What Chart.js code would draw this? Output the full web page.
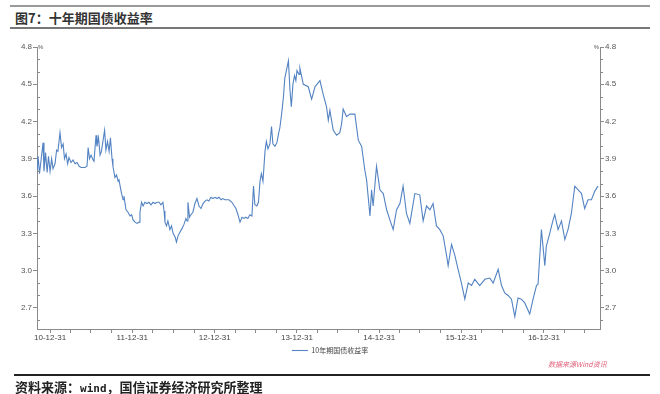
<!DOCTYPE html>
<html>
<head>
<meta charset="utf-8">
<script src="https://cdn.jsdelivr.net/npm/chart.js@4"></script>
<style>
  body { margin: 0; background: #fff; width: 660px; height: 394px; position: relative; overflow: hidden; }
  .rule { position: absolute; left: 10px; width: 640px; }
  #title { position: absolute; left: 15px; top: 8px; font: bold 13px "Noto Sans CJK SC", sans-serif; color: #333; }
  #source { position: absolute; left: 15px; top: 377px; font: bold 13px "Noto Sans CJK SC", sans-serif; color: #222; }
  #source span { font-family: "DejaVu Sans Mono", monospace; font-size: 11px; }
  #mark { position: absolute; left: 548px; top: 359px; font: italic 7px "Noto Sans CJK SC", sans-serif; color: #e3607a; }
  #box { position: absolute; left: 0; top: 30px; width: 660px; height: 334px; }
</style>
</head>
<body>
<div class="rule" style="top:5px;height:2px;background:#9a9a9a"></div>
<div id="title">图7：十年期国债收益率</div>
<div class="rule" style="top:27px;height:2px;background:#777"></div>
<div id="box"><canvas id="chart"></canvas></div>
<div id="mark">数据来源Wind资讯</div>
<div class="rule" style="top:374px;height:2px;background:#222;left:14px;width:636px"></div>
<div id="source">资料来源：<span>wind</span>，国信证券经济研究所整理</div>

<script>
// 10年期国债收益率 (%)
const dates = [
  '2010-11-04','2010-11-08','2010-11-14','2010-11-30','2010-12-04','2010-12-11','2010-12-18','2010-12-24',
  '2010-12-31','2011-01-07','2011-01-13','2011-01-22','2011-01-29','2011-02-04','2011-02-13','2011-02-20',
  '2011-02-27','2011-03-05','2011-03-12','2011-03-19','2011-03-25','2011-04-03','2011-04-12','2011-04-21',
  '2011-04-30','2011-05-09','2011-05-18','2011-05-26','2011-06-04','2011-06-13','2011-06-18','2011-06-24',
  '2011-07-01','2011-07-10','2011-07-14','2011-07-23','2011-07-27','2011-08-03','2011-08-10','2011-08-16',
  '2011-08-30','2011-09-05','2011-09-12','2011-09-19','2011-09-25','2011-10-02','2011-10-06','2011-10-15',
  '2011-10-22','2011-10-29','2011-11-02','2011-11-11','2011-11-20','2011-11-24','2011-12-03','2011-12-12',
  '2011-12-21','2011-12-28','2012-01-03','2012-01-12','2012-01-21','2012-01-30','2012-02-03','2012-02-10',
  '2012-02-17','2012-02-25','2012-03-05','2012-03-14','2012-03-23','2012-04-01','2012-04-10','2012-04-19',
  '2012-04-28','2012-05-06','2012-05-15','2012-05-20','2012-05-24','2012-05-31','2012-06-06','2012-06-15',
  '2012-06-22','2012-06-29','2012-07-08','2012-07-14','2012-07-21','2012-07-30','2012-08-08','2012-08-16',
  '2012-08-25','2012-08-30','2012-09-03','2012-09-10','2012-09-16','2012-09-25','2012-10-04','2012-10-13',
  '2012-10-22','2012-10-31','2012-11-09','2012-11-18','2012-11-26','2012-12-05','2012-12-14','2012-12-23',
  '2013-01-01','2013-01-10','2013-01-19','2013-01-28','2013-02-05','2013-02-14','2013-03-04','2013-03-17',
  '2013-04-04','2013-04-13','2013-04-22','2013-05-01','2013-05-10','2013-05-18','2013-05-27','2013-06-05',
  '2013-06-14','2013-06-21','2013-06-27','2013-07-06','2013-07-13','2013-07-20','2013-07-26','2013-08-02',
  '2013-08-11','2013-08-17','2013-08-24','2013-09-02','2013-09-09','2013-09-15','2013-09-24','2013-10-03',
  '2013-10-10','2013-10-16','2013-10-21','2013-10-25','2013-11-01','2013-11-07','2013-11-23','2013-11-30',
  '2013-12-06','2013-12-13','2013-12-20','2013-12-26','2013-12-31','2014-01-09','2014-01-13','2014-01-28',
  '2014-02-19','2014-03-06','2014-03-21','2014-04-12','2014-04-26','2014-05-11','2014-05-19','2014-05-26',
  '2014-06-10','2014-06-25','2014-07-09','2014-07-17','2014-07-24','2014-08-08','2014-08-23','2014-09-14',
  '2014-09-29','2014-10-14','2014-10-28','2014-11-05','2014-11-20','2014-11-27','2014-12-04','2014-12-19',
  '2015-01-03','2015-01-18','2015-02-02','2015-02-16','2015-03-03','2015-03-18','2015-04-02','2015-04-16',
  '2015-05-01','2015-05-16','2015-06-07','2015-06-29','2015-07-14','2015-07-29','2015-08-13','2015-08-27',
  '2015-09-11','2015-09-26','2015-10-11','2015-10-26','2015-11-02','2015-11-17','2015-12-02','2015-12-16',
  '2015-12-31','2016-01-15','2016-01-30','2016-02-14','2016-02-28','2016-03-21','2016-04-13','2016-05-05',
  '2016-05-20','2016-06-11','2016-06-26','2016-07-10','2016-07-25','2016-08-09','2016-08-24','2016-09-07',
  '2016-09-22','2016-10-07','2016-10-29','2016-11-13','2016-11-28','2016-12-05','2016-12-20','2017-01-04',
  '2017-01-11','2017-01-26','2017-02-10','2017-02-17','2017-03-04','2017-03-19','2017-04-03','2017-04-17',
  '2017-05-02','2017-05-17','2017-06-01','2017-06-16','2017-06-30','2017-07-15','2017-07-30','2017-08-14',
  '2017-08-28'
];
const yields = [
  3.81, 3.92, 3.78, 4.03, 3.80, 3.95, 3.79, 3.92,
  3.80, 3.90, 3.82, 3.86, 3.97, 3.96, 4.11, 3.99,
  4.02, 3.90, 3.94, 3.86, 3.91, 3.87, 3.89, 3.86,
  3.87, 3.84, 3.83, 3.83, 3.83, 3.84, 3.99, 3.90,
  3.93, 3.89, 3.88, 4.09, 4.00, 4.07, 3.93, 3.96,
  4.13, 3.97, 4.04, 3.96, 4.07, 3.90, 3.84, 3.75,
  3.77, 3.72, 3.73, 3.64, 3.57, 3.60, 3.49, 3.47,
  3.44, 3.45, 3.41, 3.39, 3.38, 3.39, 3.47, 3.55,
  3.52, 3.55, 3.54, 3.55, 3.53, 3.55, 3.54, 3.55,
  3.55, 3.53, 3.55, 3.48, 3.39, 3.36, 3.40, 3.33,
  3.36, 3.30, 3.27, 3.23, 3.28, 3.31, 3.34, 3.37,
  3.42, 3.40, 3.55, 3.43, 3.45, 3.47, 3.54, 3.58,
  3.52, 3.50, 3.54, 3.56, 3.57, 3.56, 3.59, 3.58,
  3.59, 3.58, 3.59, 3.57, 3.58, 3.57, 3.57, 3.55,
  3.50, 3.45, 3.39, 3.43, 3.42, 3.43, 3.42, 3.45,
  3.44, 3.68, 3.53, 3.52, 3.55, 3.72, 3.78, 3.72,
  3.96, 4.04, 3.98, 4.02, 4.16, 4.02, 4.00, 4.03,
  4.10, 4.15, 4.22, 4.28, 4.40, 4.55, 4.69, 4.45,
  4.32, 4.50, 4.57, 4.53, 4.61, 4.58, 4.63, 4.50,
  4.48, 4.38, 4.48, 4.53, 4.42, 4.32, 4.21, 4.29,
  4.13, 4.09, 4.11, 4.18, 4.30, 4.24, 4.26, 4.26,
  4.05, 4.00, 3.81, 3.73, 3.44, 3.65, 3.52, 3.84,
  3.65, 3.62, 3.49, 3.41, 3.33, 3.49, 3.54, 3.68,
  3.46, 3.38, 3.62, 3.61, 3.40, 3.52, 3.49, 3.54,
  3.36, 3.33, 3.28, 3.12, 3.04, 3.21, 3.12, 3.01,
  2.90, 2.77, 2.90, 2.88, 2.93, 2.88, 2.93, 2.94,
  2.90, 3.01, 2.88, 2.82, 2.80, 2.77, 2.63, 2.78,
  2.77, 2.74, 2.65, 2.77, 2.88, 2.89, 3.33, 3.04,
  3.20, 3.30, 3.41, 3.45, 3.33, 3.40, 3.25, 3.33,
  3.46, 3.68, 3.65, 3.62, 3.50, 3.57, 3.57, 3.64,
  3.68
];

const xTickDates = ['2010-12-31','2011-12-31','2012-12-31','2013-12-31','2014-12-31','2015-12-31','2016-12-31'];
const xTickLabels = ['10-12-31','11-12-31','12-12-31','13-12-31','14-12-31','15-12-31','16-12-31'];
const yTicks = [2.7, 3.0, 3.3, 3.6, 3.9, 4.2, 4.5, 4.8];

const xMin = Date.parse('2010-11-03');
const xMax = Date.parse('2017-09-06');
const yMin = 2.53;
const yMax = 4.8;

const points = dates.map((d, i) => ({ x: Date.parse(d), y: yields[i] }));
const xTickValues = xTickDates.map(d => Date.parse(d));

// quarter-end minor ticks on the date axis
const quarterEnds = [];
for (let y = 2010; y <= 2017; y++) {
  ['03-31', '06-30', '09-30', '12-31'].forEach(md => {
    const v = Date.parse(y + '-' + md);
    if (v >= xMin && v <= xMax) quarterEnds.push(v);
  });
}

const axisColor = '#8a8a8a';
const tickFont = { family: 'Liberation Sans, Arial, sans-serif', size: 8 };

// small extra marks: minor ticks at every 0.1 and the % unit at the top of both axes
const axisExtras = {
  id: 'axisExtras',
  afterDraw(chart) {
    const ctx = chart.ctx;
    const y = chart.scales.y;
    const a = chart.chartArea;
    ctx.save();
    ctx.strokeStyle = axisColor;
    ctx.lineWidth = 1;
    for (let i = 26; i <= 48; i++) {
      if ((i - 27) % 3 === 0) continue;
      const py = Math.round(y.getPixelForValue(i / 10)) + 0.5;
      ctx.beginPath();
      ctx.moveTo(a.left, py); ctx.lineTo(a.left + 3, py);
      ctx.moveTo(a.right, py); ctx.lineTo(a.right + 3, py);
      ctx.stroke();
    }
    ctx.fillStyle = '#555';
    ctx.font = '6px Liberation Sans, sans-serif';
    ctx.textBaseline = 'middle';
    const top = y.getPixelForValue(yMax);
    ctx.textAlign = 'left';
    ctx.fillText('%', a.left + 1, top);
    ctx.textAlign = 'right';
    ctx.fillText('%', a.right - 1, top);
    ctx.restore();
  }
};

function yAxis(position, width) {
  return {
    type: 'linear',
    position: position,
    min: yMin,
    max: yMax,
    afterBuildTicks: s => { s.ticks = yTicks.map(v => ({ value: v })); },
    afterFit: s => { s.width = width; },
    ticks: {
      color: '#555',
      font: tickFont,
      padding: 1,
      callback: v => v.toFixed(1)
    },
    grid: { drawOnChartArea: false, tickLength: 4, color: axisColor },
    border: { color: axisColor, width: 1 }
  };
}

new Chart(document.getElementById('chart'), {
  type: 'line',
  data: {
    datasets: [{
      label: '10年期国债收益率',
      data: points,
      borderColor: '#5383c2',
      borderWidth: 1.1,
      pointRadius: 0,
      tension: 0,
      yAxisID: 'y'
    }]
  },
  options: {
    responsive: true,
    maintainAspectRatio: false,
    animation: false,
    layout: { padding: { top: 17, left: 0, right: 0, bottom: 0 } },
    scales: {
      x: {
        type: 'linear',
        min: xMin,
        max: xMax,
        afterBuildTicks: s => { s.ticks = quarterEnds.map(v => ({ value: v })); },
        afterFit: s => { s.height = 12; },
        ticks: {
          autoSkip: false,
          maxRotation: 0,
          color: '#444',
          font: tickFont,
          padding: 0,
          callback: v => {
            const i = xTickValues.indexOf(v);
            return i >= 0 ? xTickLabels[i] : '';
          }
        },
        grid: { drawOnChartArea: false, tickLength: 4, color: axisColor },
        border: { color: axisColor, width: 1 }
      },
      y: yAxis('left', 37),
      y2: yAxis('right', 60)
    },
    plugins: {
      legend: {
        position: 'bottom',
        labels: {
          usePointStyle: true,
          pointStyle: 'line',
          pointStyleWidth: 16,
          color: '#444',
          padding: 6,
          font: { family: 'Noto Sans CJK SC, sans-serif', size: 7 }
        }
      },
      tooltip: { enabled: false }
    }
  },
  plugins: [axisExtras]
});
</script>
</body>
</html>
